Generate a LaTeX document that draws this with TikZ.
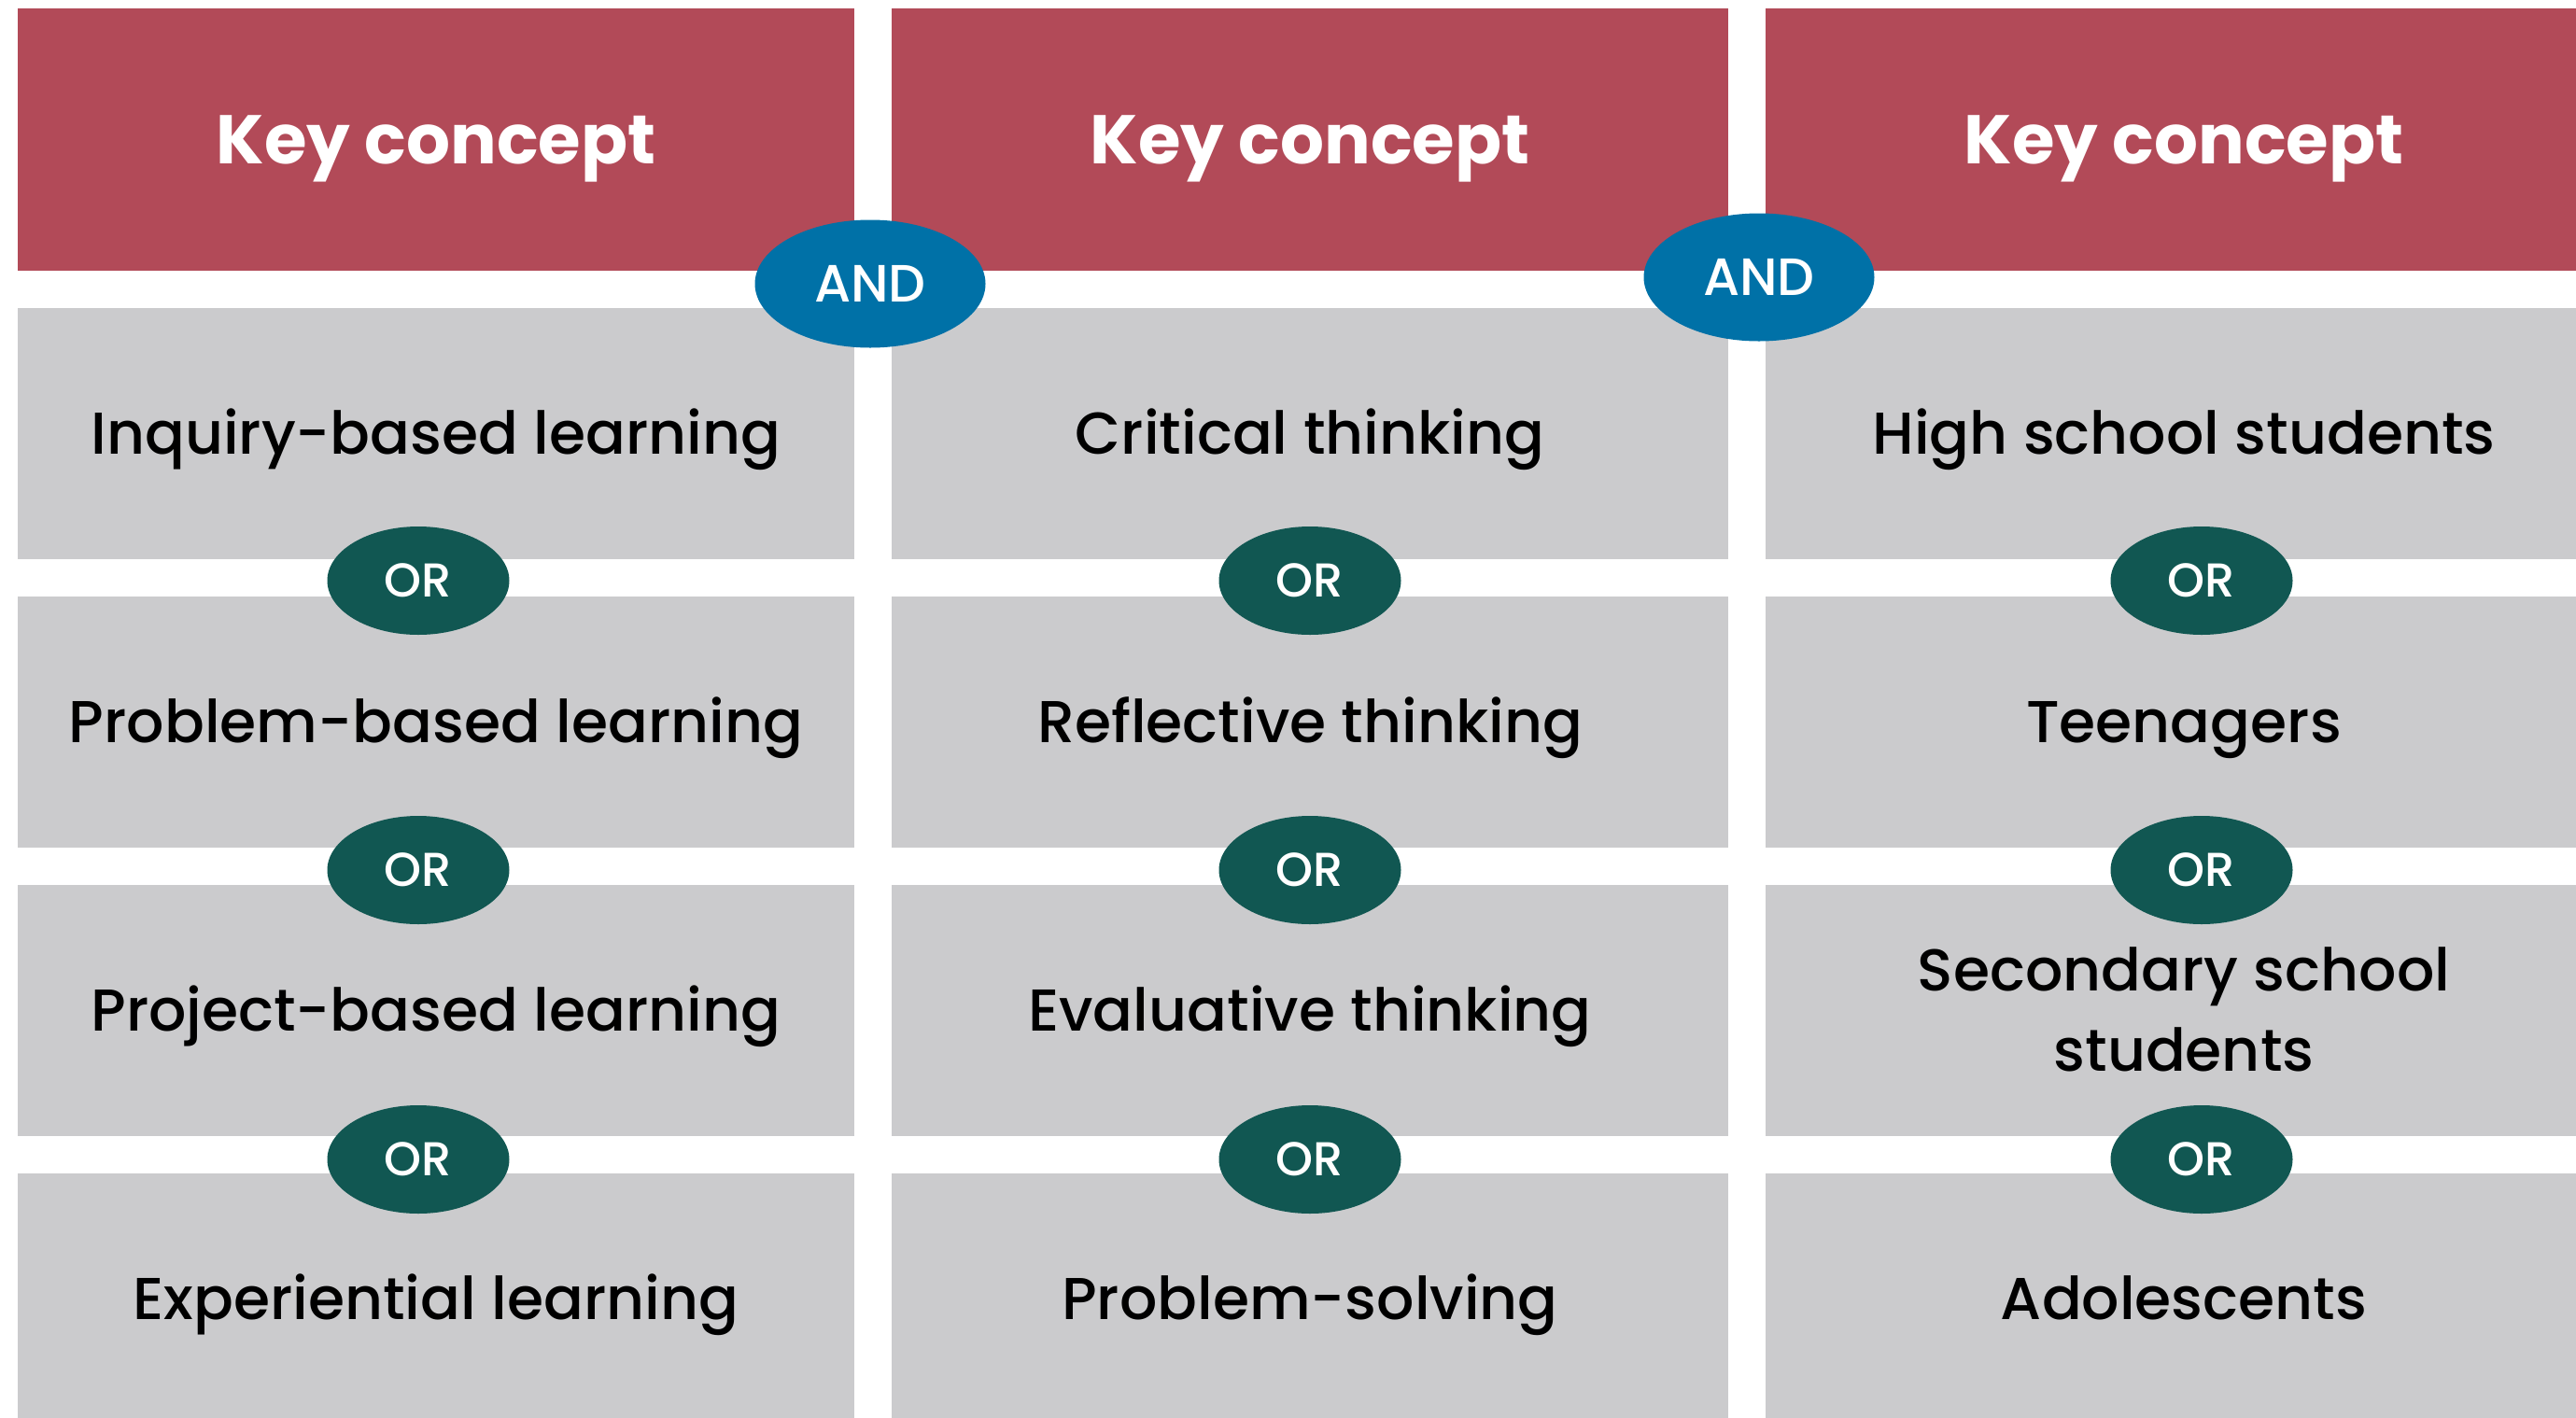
\documentclass[tikz,border=0pt]{standalone}
\usepackage{fontspec}
\setmainfont{Poppins}
\newfontfamily\termfont{Poppins Medium}
\usetikzlibrary{shapes.geometric,positioning}
\definecolor{keyred}{HTML}{B24A58}
\definecolor{termgray}{HTML}{CBCBCD}
\definecolor{andblue}{HTML}{0071A7}
\definecolor{orgreen}{HTML}{115752}
\tikzset{
	keybox/.style={
		rectangle,
		fill=keyred,
		text=white,
		font=\fontsize{21}{25}\selectfont\bfseries,
		minimum width=8.96cm,
		minimum height=2.81cm,
		inner sep=0pt,
		outer sep=0pt,
		text height=0.52cm,
		text depth=0pt
	},
	termbox/.style={
		rectangle,
		fill=termgray,
		text=black,
		font=\termfont\fontsize{18}{24.5}\selectfont,
		align=center,
		minimum width=8.96cm,
		minimum height=2.69cm,
		inner sep=0pt,
		outer sep=0pt,
		text height=0.445cm,
		text depth=0pt
	},
	andnode/.style={
		ellipse,
		fill=andblue,
		text=white,
		font=\termfont\fontsize{16}{18}\selectfont,
		minimum width=2.47cm,
		minimum height=1.37cm,
		inner sep=0pt,
		text height=0.39cm,
		text depth=0pt
	},
	ornode/.style={
		ellipse,
		fill=orgreen,
		text=white,
		font=\termfont\fontsize{14.5}{16}\selectfont,
		minimum width=1.95cm,
		minimum height=1.16cm,
		inner sep=0pt,
		text height=0.355cm,
		text depth=0pt
	}
}

\begin{document}
\begin{tikzpicture}[node distance=0.4cm and 0.4cm]
	\clip (0,0) rectangle (27.59,-15.18);
	% headers
	\node [keybox] (k1) at (4.67,-1.495) {Key concept};
	\node [keybox] (k2) [right=of k1] {Key concept};
	\node [keybox] (k3) [right=of k2] {Key concept};
	% first column
	\node [termbox] (a1) [below=of k1] {Inquiry-based learning};
	\node [termbox] (a2) [below=of a1] {Problem-based learning};
	\node [termbox] (a3) [below=of a2] {Project-based learning};
	\node [termbox] (a4) [below=of a3] {Experiential learning};
	% second column
	\node [termbox] (b1) [below=of k2] {Critical thinking};
	\node [termbox] (b2) [below=of b1] {Reflective thinking};
	\node [termbox] (b3) [below=of b2] {Evaluative thinking};
	\node [termbox] (b4) [below=of b3] {Problem-solving};
	% third column
	\node [termbox] (c1) [below=of k3] {High school students};
	\node [termbox] (c2) [below=of c1] {Teenagers};
	\node [termbox,text height=1.305cm] (c3) [below=of c2] {Secondary school\\students};
	\node [termbox] (c4) [below=of c3] {Adolescents};
	% operators
	\node [andnode] (and1) at (9.32,-3.04) {AND};
	\node [andnode] (and2) at (18.84,-2.97) {AND};
	\node [ornode] (ora1) at (4.48,-6.22) {OR};
	\node [ornode] (ora2) at (4.48,-9.32) {OR};
	\node [ornode] (ora3) at (4.48,-12.42) {OR};
	\node [ornode] (orb1) at (14.03,-6.22) {OR};
	\node [ornode] (orb2) at (14.03,-9.32) {OR};
	\node [ornode] (orb3) at (14.03,-12.42) {OR};
	\node [ornode] (orc1) at (23.58,-6.22) {OR};
	\node [ornode] (orc2) at (23.58,-9.32) {OR};
	\node [ornode] (orc3) at (23.58,-12.42) {OR};
\end{tikzpicture}
\end{document}
